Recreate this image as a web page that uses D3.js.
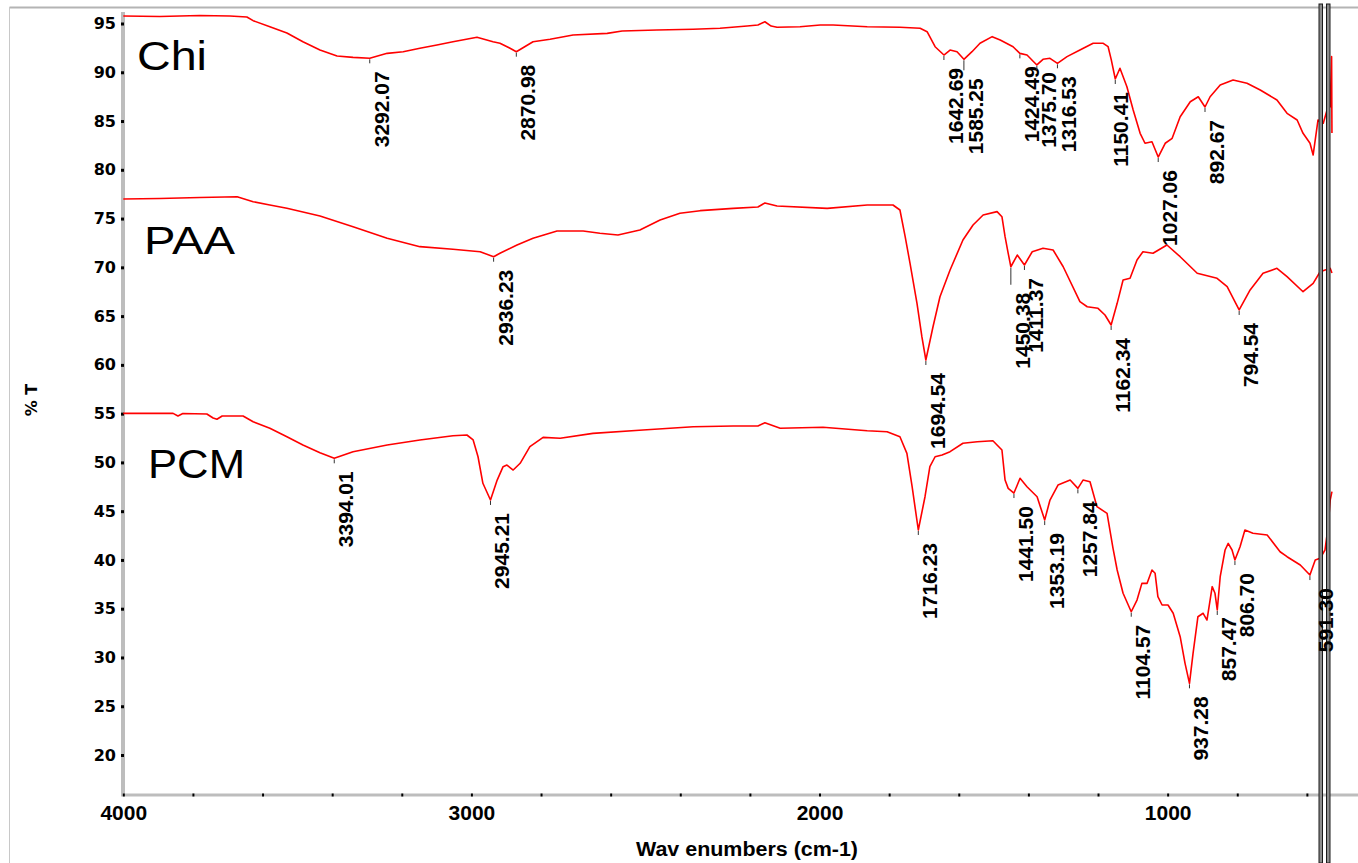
<!DOCTYPE html>
<html>
<head>
<meta charset="utf-8">
<script src="https://cdn.jsdelivr.net/npm/d3@7"></script>
<style>
  html, body { margin: 0; padding: 0; background: #ffffff; }
  svg { display: block; }
</style>
</head>
<body>
<svg id="chart" width="1358" height="863"></svg>
<script>
// FTIR transmittance spectra: [wavenumber (cm-1), %T]
const chiSpectrum = [
  [4000,95.77],[3895,95.72],[3780,95.82],[3694,95.77],[3645,95.67],[3627,95.29],[3579,94.67],
  [3530,94.03],[3484,93.13],[3435,92.28],[3386,91.67],[3340,91.53],[3292.07,91.43],[3242,91.94],
  [3196,92.11],[3148,92.46],[3099,92.80],[3053,93.13],[2984,93.59],[2938,93.13],[2918,92.97],
  [2889,92.46],[2870.98,92.11],[2823,93.13],[2774,93.38],[2708,93.82],[2610,93.99],[2567,94.23],
  [2467,94.33],[2363,94.41],[2286,94.51],[2208,94.74],[2177,94.85],[2157,95.18],[2139,94.74],
  [2122,94.61],[2056,94.67],[1998,94.85],[1961,94.85],[1863,94.67],[1769,94.61],[1711,94.51],
  [1691,94.16],[1668,92.62],[1642.69,91.77],[1625,92.28],[1605,92.11],[1585.25,91.33],[1562,92.11],
  [1539,92.97],[1504,93.65],[1481,93.31],[1444,92.62],[1424.49,91.94],[1404,91.77],[1375.70,90.75],
  [1358,91.33],[1338,91.43],[1316.53,90.92],[1289,91.60],[1252,92.28],[1214,92.97],[1185,92.97],
  [1171,92.62],[1162,91.30],[1150.41,89.31],[1137,90.41],[1117,88.52],[1099,86.13],[1079,83.74],
  [1065,82.72],[1045,82.88],[1027.06,81.31],[1007,82.72],[987,83.23],[964,85.44],[935,86.98],
  [912,87.49],[892.67,86.44],[878,87.49],[849,88.69],[812,89.21],[772,88.87],[734,88.18],
  [686,87.16],[657,85.79],[628,85.11],[611,83.74],[591,82.72],[582,81.52],[568,85.11],[553,84.77],
  [542,86.13],[533,86.47],[529,91.60],[528,83.77]
];

const paaSpectrum = [
  [4000,77.01],[3895,77.06],[3780,77.16],[3673,77.24],[3627,76.73],[3579,76.39],[3530,76.05],
  [3435,75.26],[3340,74.17],[3242,72.98],[3148,72.12],[3053,71.85],[2975,71.60],[2936.23,71.09],
  [2918,71.44],[2869,72.29],[2823,72.98],[2754,73.73],[2679,73.73],[2631,73.49],[2579,73.32],
  [2516,73.83],[2458,74.85],[2401,75.54],[2343,75.81],[2248,76.05],[2177,76.19],[2157,76.60],
  [2122,76.29],[1978,76.05],[1863,76.39],[1789,76.39],[1769,75.88],[1754,73.14],[1740,70.41],
  [1720,66.31],[1706,62.89],[1694.54,60.50],[1674,63.91],[1654,66.99],[1625,69.73],[1588,72.80],
  [1559,74.34],[1530,75.37],[1490,75.71],[1476,75.19],[1467,73.14],[1458,71.44],[1450.38,70.06],
  [1432,71.26],[1411.37,70.24],[1389,71.60],[1358,71.95],[1329,71.78],[1300,70.06],[1252,66.48],
  [1231,65.96],[1200,65.80],[1180,65.11],[1162.34,64.09],[1145,66.31],[1128,68.70],[1108,68.88],
  [1088,70.75],[1071,71.60],[1042,71.44],[1002,72.29],[964,71.09],[915,69.39],[858,68.88],
  [829,68.02],[794.54,65.63],[763,67.68],[726,69.39],[686,69.90],[657,69.04],[611,67.50],
  [582,68.36],[562,69.55],[533,69.90],[528,69.42]
];

const pcmSpectrum = [
  [4000,55.03],[3857,55.03],[3843,54.76],[3829,55.01],[3760,54.96],[3742,54.55],[3731,54.42],
  [3716,54.76],[3656,54.76],[3627,54.17],[3579,53.50],[3530,52.63],[3484,51.78],[3435,50.99],
  [3394.01,50.42],[3340,51.10],[3242,51.78],[3148,52.30],[3053,52.74],[3013,52.81],[2995,52.30],
  [2981,50.58],[2967,47.86],[2945.21,46.15],[2926,48.19],[2909,49.56],[2898,49.73],[2880,49.22],
  [2860,49.91],[2832,51.61],[2794,52.57],[2745,52.47],[2651,52.98],[2507,53.32],[2363,53.66],
  [2248,53.73],[2177,53.73],[2157,54.07],[2113,53.50],[1990,53.60],[1863,53.25],[1806,53.15],
  [1769,52.63],[1749,50.93],[1734,47.51],[1716.23,43.07],[1697,46.48],[1683,49.56],[1668,50.58],
  [1648,50.76],[1625,51.10],[1588,51.96],[1547,52.12],[1502,52.22],[1476,51.27],[1467,48.19],
  [1458,47.34],[1441.50,46.86],[1424,48.37],[1404,47.51],[1375,46.48],[1353.19,44.09],[1338,46.14],
  [1315,47.68],[1280,48.19],[1257.84,47.34],[1243,48.19],[1223,48.02],[1203,45.46],[1174,44.78],
  [1157,41.20],[1145,38.97],[1128,36.58],[1104.57,34.69],[1088,35.89],[1074,37.60],[1059,37.60],
  [1045,38.97],[1036,38.63],[1028,36.23],[1016,35.38],[999,35.38],[984,34.53],[964,32.13],
  [950,29.40],[937.28,27.35],[927,30.43],[913,34.18],[898,34.53],[887,33.84],[872,37.26],
  [864,36.58],[857.47,34.87],[849,38.28],[835,41.02],[826,41.70],[815,41.02],[806.70,39.99],
  [792,41.36],[778,43.07],[755,42.73],[714,42.56],[677,40.84],[657,40.33],[619,39.48],
  [591.30,38.45],[576,39.99],[562,40.17],[548,41.02],[539,43.41],[533,46.14],[528,47.00]
];

// Picked peaks (wavenumbers) for each spectrum
const chiPeaks = [3292.07, 2870.98, 1642.69, 1585.25, 1424.49, 1375.70, 1316.53, 1150.41, 1027.06, 892.67];
const paaPeaks = [2936.23, 1694.54, 1450.38, 1411.37, 1162.34, 794.54];
const pcmPeaks = [3394.01, 2945.21, 1716.23, 1441.50, 1353.19, 1257.84, 1104.57, 937.28, 857.47, 806.70, 591.30];

const seriesNames = ["Chi", "PAA", "PCM"];

// Axis ticks
const yTickValues = [20, 25, 30, 35, 40, 45, 50, 55, 60, 65, 70, 75, 80, 85, 90, 95];
const xTickValues = [4000, 3800, 3600, 3400, 3200, 3000, 2800, 2600, 2400, 2200, 2000,
                     1800, 1600, 1400, 1200, 1000, 800, 600];
const xTickLabels = [4000, 3000, 2000, 1000];

// ---- layout ----
const W = 1358, H = 863;
const x = d3.scaleLinear().domain([4000, 450]).range([123.3, 1359.1]);
const y = d3.scaleLinear().domain([15.9, 95]).range([795, 23.5]);

const svg = d3.select("#chart");

// outer frame
svg.append("line").attr("x1", 9.5).attr("x2", W).attr("y1", 7.5).attr("y2", 7.5)
  .attr("stroke", "#b4b4b4").attr("stroke-width", 2);
svg.append("line").attr("x1", 9.5).attr("x2", 9.5).attr("y1", 7).attr("y2", H)
  .attr("stroke", "#c8c8c8").attr("stroke-width", 1);

// grey axis bars
svg.append("rect").attr("x", 121).attr("y", 12).attr("width", 4).attr("height", 784).attr("fill", "#bdbdbd");
svg.append("rect").attr("x", 121).attr("y", 793.5).attr("width", W - 121).attr("height", 3).attr("fill", "#bdbdbd");

// y axis
const gy = svg.append("g").attr("transform", "translate(124,0)")
  .call(d3.axisLeft(y).tickValues(yTickValues).tickSize(3).tickPadding(5).tickFormat(d3.format("d")));
gy.select(".domain").remove();
gy.selectAll(".tick line").attr("stroke", "#000").attr("stroke-width", 3);
gy.selectAll(".tick text").attr("font-family", "DejaVu Sans").attr("font-weight", "bold")
  .attr("font-size", 16).attr("fill", "#000");

// x axis
const gx = svg.append("g").attr("transform", "translate(0,793.5)")
  .call(d3.axisBottom(x).tickValues(xTickValues).tickSize(3).tickPadding(9)
    .tickFormat(d => xTickLabels.includes(d) ? String(d) : ""));
gx.select(".domain").remove();
gx.selectAll(".tick line").attr("stroke", "#000").attr("stroke-width", 2);
gx.selectAll(".tick text").attr("font-family", "Liberation Sans").attr("font-weight", "bold")
  .attr("font-size", 21).attr("fill", "#000");

// axis titles
svg.append("text").attr("x", 747).attr("y", 856).attr("text-anchor", "middle")
  .attr("font-family", "Liberation Sans").attr("font-weight", "bold").attr("font-size", 20)
  .attr("textLength", 222).attr("lengthAdjust", "spacingAndGlyphs")
  .text("Wav enumbers (cm-1)");
svg.append("text").attr("transform", "translate(37,400) rotate(-90)").attr("text-anchor", "middle")
  .attr("font-family", "DejaVu Sans").attr("font-weight", "bold").attr("font-size", 16)
  .text("% T");

// spectra
const spectra = [chiSpectrum, paaSpectrum, pcmSpectrum];
const peakSets = [chiPeaks, paaPeaks, pcmPeaks];
const line = d3.line().x(d => x(d[0])).y(d => y(d[1]));

const plot = svg.append("g");
spectra.forEach(s => {
  plot.append("path").datum(s).attr("d", line)
    .attr("fill", "none").attr("stroke", "#ff0000").attr("stroke-width", 1.6)
    .attr("stroke-linejoin", "round");
});

// cursor markers at the low-wavenumber end
[1319, 1326.5].forEach(px => {
  svg.append("rect").attr("x", px).attr("y", 4).attr("width", 3.5).attr("height", H - 4)
    .attr("fill", "#8c8c8c").attr("stroke", "#1a1a1a").attr("stroke-width", 1);
});

// series names
const nameLayout = [
  { x: 137, y: 70, size: 40, len: 70 },
  { x: 144, y: 254, size: 38, len: 91 },
  { x: 148, y: 478, size: 41, len: 97 }
];
seriesNames.forEach((n, i) => {
  const p = nameLayout[i];
  svg.append("text").attr("x", p.x).attr("y", p.y)
    .attr("font-family", "Liberation Sans").attr("font-size", p.size)
    .attr("textLength", p.len).attr("lengthAdjust", "spacingAndGlyphs")
    .attr("fill", "#000").text(n);
});

// peak annotations: small leader below the peak, value written upward
const labelNudge = {
  "1450.38": { dx: 0, dy: 13 },
  "1375.70": { dx: 0, dy: -6 },
  "857.47":  { dx: 0, dy: -6 },
  "1150.41": { dx: -6, dy: 0 },
  "591.30":  { dx: 4, dy: 0 },
  "1585.25": { dx: 0, dy: 6 }
};
const fmt = d3.format(".2f");
const ann = svg.append("g");
peakSets.forEach((peaks, i) => {
  const s = spectra[i];
  peaks.forEach(w => {
    const pt = s.find(d => d[0] === w);
    const px = x(pt[0]), py = y(pt[1]);
    const key = fmt(w);
    const nd = labelNudge[key] || { dx: 0, dy: 0 };
    ann.append("line").attr("x1", px).attr("x2", px).attr("y1", py + 1).attr("y2", py + 5 + Math.max(0, nd.dy))
      .attr("stroke", "#333").attr("stroke-width", 1);
    ann.append("text")
      .attr("transform", `translate(${px + 19 + nd.dx},${py + 13 + nd.dy}) rotate(-90)`)
      .attr("text-anchor", "end")
      .attr("font-family", "Liberation Sans").attr("font-weight", "bold").attr("font-size", 21)
      .attr("fill", "#000").text(key);
  });
});
</script>
</body>
</html>
